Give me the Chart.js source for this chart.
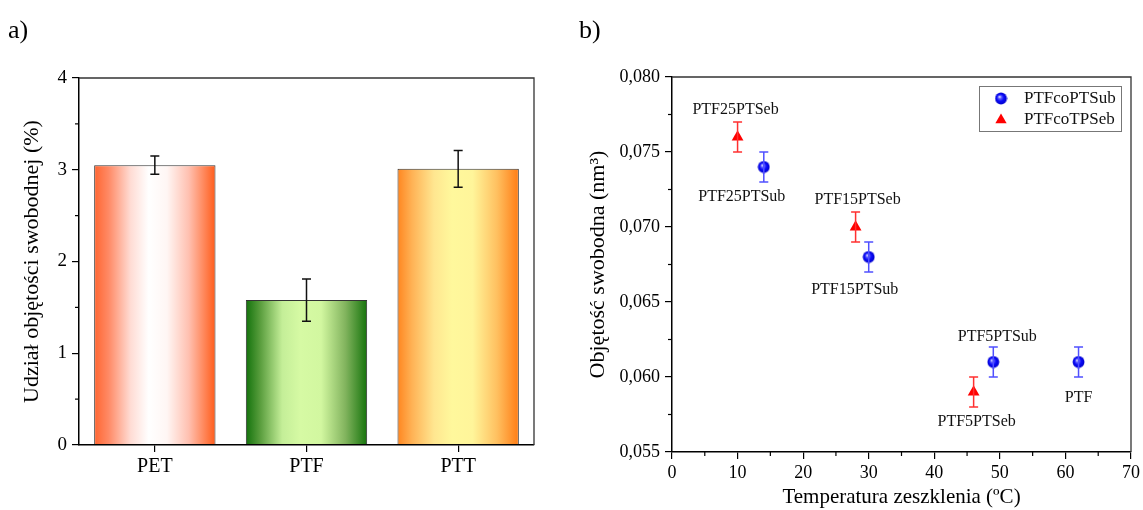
<!DOCTYPE html>
<html><head><meta charset="utf-8">
<script src="https://cdn.jsdelivr.net/npm/chart.js@4"></script>
<style>
html,body{margin:0;padding:0;background:#fff;}
#wrap{position:relative;width:1143px;height:510px;background:#fff;overflow:hidden;}
canvas{position:absolute;top:0;}
.lbl{position:absolute;z-index:5;font-family:"Liberation Serif","Times New Roman",serif;font-size:26px;color:#000;line-height:1;}
</style></head><body>
<div id="wrap">
<canvas id="c1" width="565" height="510" style="left:0"></canvas>
<canvas id="c2" width="578" height="510" style="left:565px"></canvas>
<div class="lbl" style="left:8px;top:17px">a)</div>
<div class="lbl" style="left:579px;top:17px">b)</div>
</div>
<script>
// ---------- data (panel a) ----------
const barCategories = ['PET', 'PTF', 'PTT'];
const barValues = [3.05, 1.58, 3.01];
const barErrors = [0.10, 0.23, 0.20];
const barTicks = [0, 1, 2, 3, 4];
const barMinorTicks = [0.5, 1.5, 2.5, 3.5];

// ---------- data (panel b) ----------
const subNames = ['PTF25PTSub', 'PTF15PTSub', 'PTF5PTSub', 'PTF'];
const subTg = [14, 30, 49, 62];
const subVol = [0.074, 0.068, 0.061, 0.061];
const subErr = [0.001, 0.001, 0.001, 0.001];
const sebNames = ['PTF25PTSeb', 'PTF15PTSeb', 'PTF5PTSeb'];
const sebTg = [10, 28, 46];
const sebVol = [0.076, 0.070, 0.059];
const sebErr = [0.001, 0.001, 0.001];
const tgTicks = [0, 10, 20, 30, 40, 50, 60, 70];
const tgMinorTicks = [5, 15, 25, 35, 45, 55, 65];
const volTicks = [0.055, 0.060, 0.065, 0.070, 0.075, 0.080];
const volMinorTicks = [0.0575, 0.0625, 0.0675, 0.0725, 0.0775];

// ---------- styles ----------
const FONT = '"Liberation Serif", "Times New Roman", serif';
const barGradients = [
  [[0,'#ff6530'],[0.12,'#ff8a66'],[0.3,'#ffdcd4'],[0.45,'#ffffff'],[0.6,'#fff6f4'],[0.78,'#ffc0b0'],[1,'#ff5c1a']],
  [[0,'#13720c'],[0.12,'#5a9e3e'],[0.3,'#c4ee98'],[0.45,'#d6faa4'],[0.62,'#d2f7a0'],[0.82,'#82b45e'],[1,'#16740c']],
  [[0,'#ff8620'],[0.12,'#ffb255'],[0.3,'#ffe690'],[0.45,'#fff89c'],[0.62,'#fff59a'],[0.82,'#ffc060'],[1,'#ff7c14']]
];
const subLabelOffset = [[-22, 30], [-14, 33], [4, -25], [0, 36]];
const sebLabelOffset = [[-2, -27], [2, -27], [3, 30]];

function axisCommon(fontSize) {
  return {
    grid: { display: true, drawOnChartArea: false, drawTicks: true, tickLength: 7, color: '#000', lineWidth: 1.2, offset: false },
    border: { display: true, color: '#000', width: 1.5, z: 1 },
    ticks: { color: '#000', font: { family: FONT, size: fontSize }, padding: 4 }
  };
}

const framePlugin = {
  id: 'frame',
  afterDraw(chart, args, opts) {
    const { ctx, chartArea: a } = chart;
    ctx.save();
    ctx.strokeStyle = '#333';
    ctx.lineWidth = 1.3;
    ctx.beginPath();
    ctx.moveTo(a.left, a.top); ctx.lineTo(a.right, a.top); ctx.lineTo(a.right, a.bottom);
    ctx.stroke();
    ctx.strokeStyle = '#000';
    ctx.lineWidth = 1.2;
    (opts.y || []).forEach(v => {
      const y = chart.scales.y.getPixelForValue(v);
      ctx.beginPath(); ctx.moveTo(a.left - 4, y); ctx.lineTo(a.left, y); ctx.stroke();
    });
    (opts.x || []).forEach(v => {
      const x = chart.scales.x.getPixelForValue(v);
      ctx.beginPath(); ctx.moveTo(x, a.bottom); ctx.lineTo(x, a.bottom + 4); ctx.stroke();
    });
    ctx.restore();
  }
};

function drawErr(ctx, x, y1, y2, color, cap) {
  ctx.strokeStyle = color;
  ctx.beginPath();
  ctx.moveTo(x, y1); ctx.lineTo(x, y2);
  ctx.moveTo(x - cap, y1); ctx.lineTo(x + cap, y1);
  ctx.moveTo(x - cap, y2); ctx.lineTo(x + cap, y2);
  ctx.stroke();
}

// ---------- panel a ----------
const barErrPlugin = {
  id: 'barErr',
  afterDatasetsDraw(chart) {
    const ctx = chart.ctx, ys = chart.scales.y;
    const meta = chart.getDatasetMeta(0);
    ctx.save(); ctx.lineWidth = 1.5;
    meta.data.forEach((bar, i) => {
      drawErr(ctx, bar.x, ys.getPixelForValue(barValues[i] + barErrors[i]), ys.getPixelForValue(barValues[i] - barErrors[i]), '#111', 4.5);
    });
    ctx.restore();
  }
};

const axA = axisCommon(19), axAy = axisCommon(19);
new Chart(document.getElementById('c1'), {
  type: 'bar',
  data: {
    labels: barCategories,
    datasets: [{
      data: barValues,
      borderColor: '#333',
      borderWidth: 1,
      barPercentage: 1,
      categoryPercentage: 0.8,
      backgroundColor: (c) => {
        const chart = c.chart;
        if (!chart.chartArea || c.dataIndex === undefined) return '#fff';
        const xs = chart.scales.x;
        const cx = xs.getPixelForValue(c.dataIndex);
        const half = xs.width / barCategories.length * 0.8 / 2;
        const g = chart.ctx.createLinearGradient(cx - half, 0, cx + half, 0);
        barGradients[c.dataIndex].forEach(s => g.addColorStop(s[0], s[1]));
        return g;
      }
    }]
  },
  options: {
    responsive: false, animation: false, devicePixelRatio: 1,
    layout: { padding: { left: 0, top: 78, right: 31, bottom: 0 } },
    plugins: { legend: { display: false }, tooltip: { enabled: false }, frame: { y: barMinorTicks } },
    scales: {
      x: Object.assign(axA, {
        ticks: { color: '#000', font: { family: FONT, size: 20 }, padding: 3 },
        afterFit: s => { s.height = 65; }
      }),
      y: Object.assign(axAy, {
        min: 0, max: 4,
        afterBuildTicks: s => { s.ticks = barTicks.map(v => ({ value: v })); },
        ticks: { color: '#000', font: { family: FONT, size: 19 }, padding: 5 },
        title: { display: true, text: 'Udział objętości swobodnej (%)', color: '#000', font: { family: FONT, size: 22 }, padding: { top: 19, bottom: 0 } },
        afterFit: s => { s.width = 79; }
      })
    }
  },
  plugins: [barErrPlugin, framePlugin]
});

// ---------- panel b ----------
const sphere = document.createElement('canvas');
sphere.width = 13; sphere.height = 13;
(function () {
  const g = sphere.getContext('2d');
  const rg = g.createRadialGradient(5.0, 4.8, 0.3, 6.5, 6.5, 6.2);
  rg.addColorStop(0, '#e4e8ff');
  rg.addColorStop(0.22, '#6060ff');
  rg.addColorStop(0.55, '#0a0af8');
  rg.addColorStop(1, '#0000c8');
  g.fillStyle = rg;
  g.beginPath(); g.arc(6.5, 6.5, 5.9, 0, Math.PI * 2); g.fill();
})();

const subColor = '#0000ff', sebColor = '#ff0000';
const subErrColor = '#5050ff', sebErrColor = '#ff3030';

const scatterExtras = {
  id: 'scatterExtras',
  afterDatasetsDraw(chart) {
    const ctx = chart.ctx, xs = chart.scales.x, ys = chart.scales.y;
    ctx.save();
    ctx.lineWidth = 1.5;
    subTg.forEach((t, i) => drawErr(ctx, xs.getPixelForValue(t), ys.getPixelForValue(subVol[i] + subErr[i]), ys.getPixelForValue(subVol[i] - subErr[i]), subErrColor, 4.5));
    sebTg.forEach((t, i) => drawErr(ctx, xs.getPixelForValue(t), ys.getPixelForValue(sebVol[i] + sebErr[i]), ys.getPixelForValue(sebVol[i] - sebErr[i]), sebErrColor, 4.5));
    ctx.restore();
  },
  afterDraw(chart) {
    const ctx = chart.ctx, xs = chart.scales.x, ys = chart.scales.y, a = chart.chartArea;
    ctx.save();
    ctx.fillStyle = '#111';
    ctx.font = '16px ' + FONT;
    ctx.textAlign = 'center';
    ctx.textBaseline = 'middle';
    subNames.forEach((n, i) => ctx.fillText(n, xs.getPixelForValue(subTg[i]) + subLabelOffset[i][0], ys.getPixelForValue(subVol[i]) + subLabelOffset[i][1]));
    sebNames.forEach((n, i) => ctx.fillText(n, xs.getPixelForValue(sebTg[i]) + sebLabelOffset[i][0], ys.getPixelForValue(sebVol[i]) + sebLabelOffset[i][1]));
    // legend
    const bw = 142, bh = 45;
    const bx = a.right - 10 - bw, by = a.top + 9;
    ctx.fillStyle = '#fff';
    ctx.fillRect(bx, by, bw, bh);
    ctx.strokeStyle = '#777'; ctx.lineWidth = 1;
    ctx.strokeRect(bx + 0.5, by + 0.5, bw, bh);
    const ds = chart.data.datasets;
    const mx = bx + 22, tx = bx + 45;
    ctx.drawImage(sphere, mx - 6.5, by + 12.5 - 6.5);
    ctx.fillStyle = sebColor;
    const r = 6.5, ty = by + 34;
    ctx.beginPath();
    ctx.moveTo(mx, ty - r);
    ctx.lineTo(mx + r * Math.sin(2 * Math.PI / 3), ty + r / 2);
    ctx.lineTo(mx - r * Math.sin(2 * Math.PI / 3), ty + r / 2);
    ctx.closePath(); ctx.fill();
    ctx.fillStyle = '#111';
    ctx.font = '17px ' + FONT;
    ctx.textAlign = 'left';
    ctx.fillText(ds[0].label, tx, by + 13);
    ctx.fillText(ds[1].label, tx, by + 34);
    ctx.restore();
  }
};

const axBx = axisCommon(18), axBy = axisCommon(18);
new Chart(document.getElementById('c2'), {
  type: 'scatter',
  data: {
    datasets: [
      {
        label: 'PTFcoPTSub',
        data: subTg.map((t, i) => ({ x: t, y: subVol[i] })),
        pointStyle: sphere, pointRadius: 6.5,
        backgroundColor: subColor, borderColor: subColor
      },
      {
        label: 'PTFcoTPSeb',
        data: sebTg.map((t, i) => ({ x: t, y: sebVol[i] })),
        pointStyle: 'triangle', pointRadius: 6.8, borderWidth: 0,
        backgroundColor: sebColor, borderColor: sebColor
      }
    ]
  },
  options: {
    responsive: false, animation: false, devicePixelRatio: 1,
    layout: { padding: { left: 0, top: 77, right: 10, bottom: 0 } },
    plugins: { legend: { display: false }, tooltip: { enabled: false }, frame: { x: tgMinorTicks, y: volMinorTicks } },
    scales: {
      x: Object.assign(axBx, {
        type: 'linear', min: 0, max: 70,
        afterBuildTicks: s => { s.ticks = tgTicks.map(v => ({ value: v })); },
        ticks: { color: '#000', font: { family: FONT, size: 18 }, padding: 3 },
        title: { display: true, text: 'Temperatura zeszklenia (ºC)', color: '#000', font: { family: FONT, size: 21 }, padding: { top: 0, bottom: 0 } },
        afterFit: s => { s.height = 58; }
      }),
      y: Object.assign(axBy, {
        type: 'linear', min: 0.055, max: 0.080,
        afterBuildTicks: s => { s.ticks = volTicks.map(v => ({ value: v })); },
        ticks: { color: '#000', font: { family: FONT, size: 18 }, padding: 5,
          callback: v => v.toFixed(3).replace('.', ',') },
        title: { display: true, text: 'Objętość swobodna (nm³)', color: '#000', font: { family: FONT, size: 22 }, padding: { top: 20, bottom: 0 } },
        afterFit: s => { s.width = 107; }
      })
    }
  },
  plugins: [scatterExtras, framePlugin]
});
</script>
</body></html>
